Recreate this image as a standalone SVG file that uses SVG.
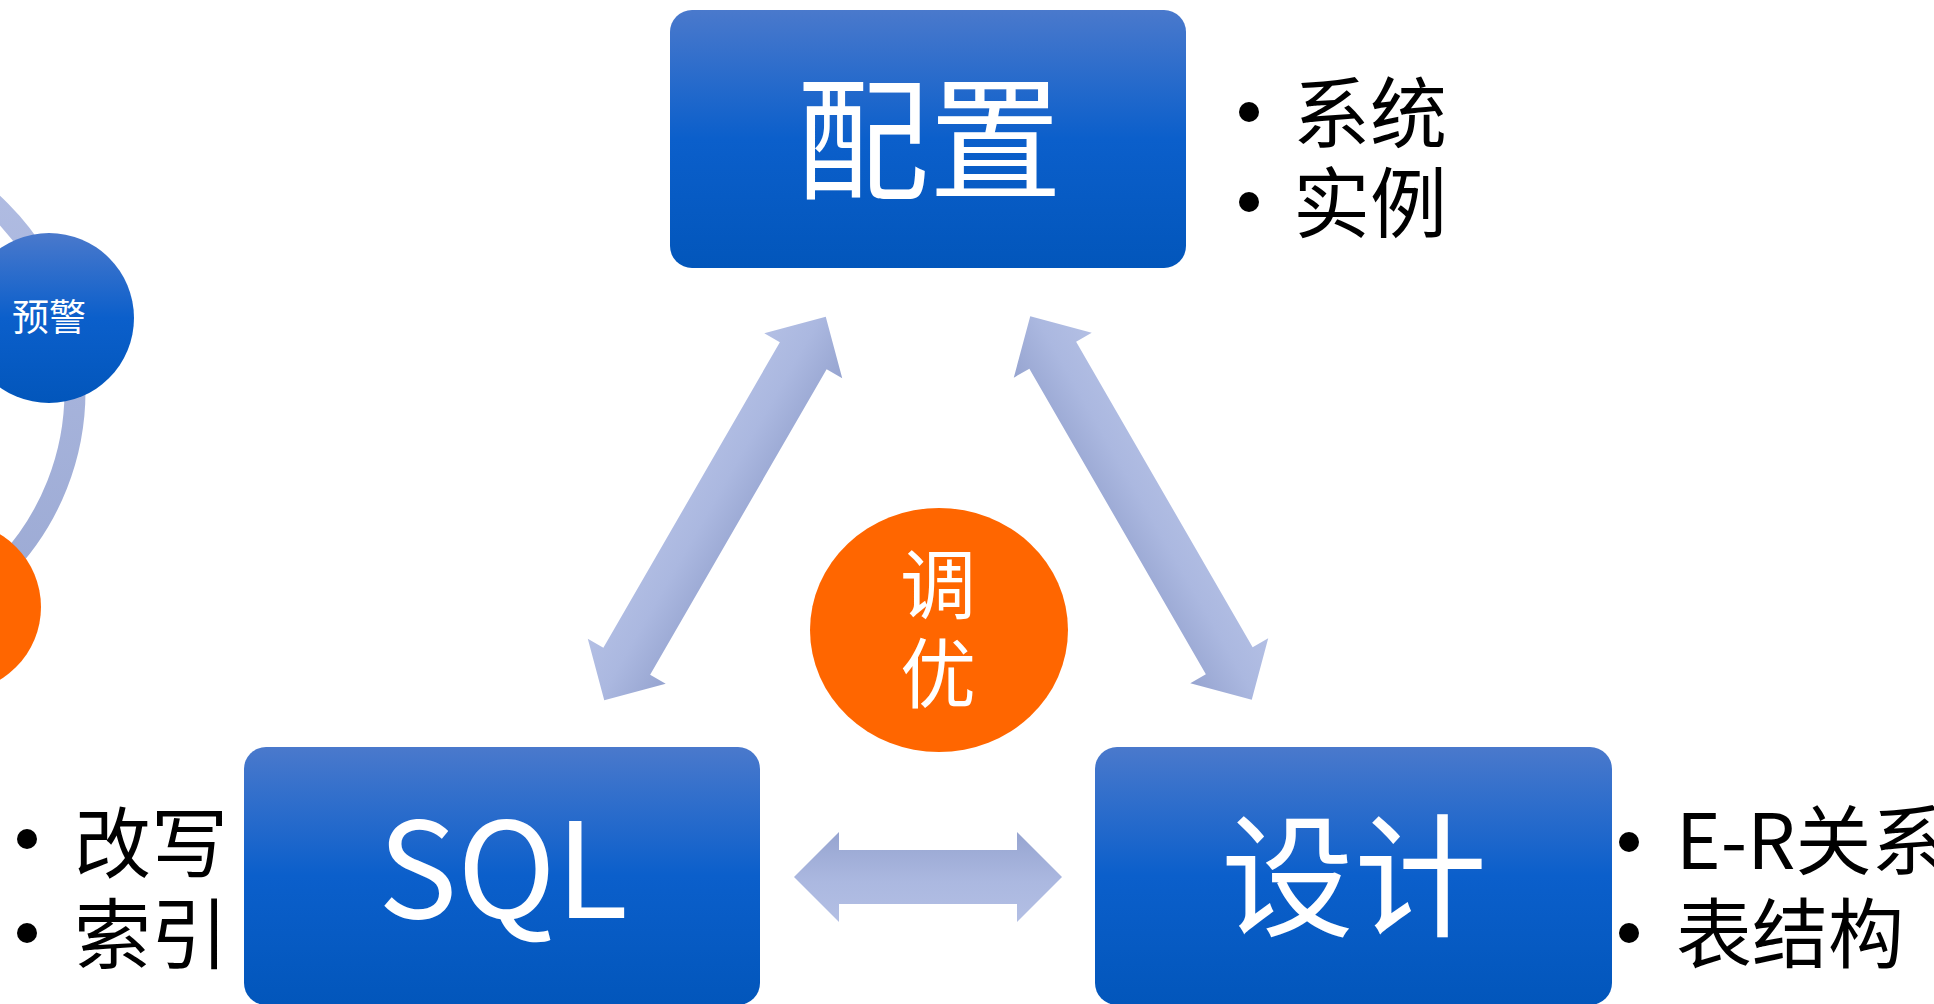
<svg xmlns="http://www.w3.org/2000/svg" width="1934" height="1004" viewBox="0 0 1934 1004">
  <defs>
    <linearGradient id="blueGrad" x1="0" y1="0" x2="0" y2="1">
      <stop offset="0" stop-color="#4a79cc"/>
      <stop offset="0.5" stop-color="#0b5fcb"/>
      <stop offset="1" stop-color="#0256bb"/>
    </linearGradient>
    <linearGradient id="arrowGrad" x1="0" y1="0" x2="0" y2="1">
      <stop offset="0" stop-color="#96a4d0"/>
      <stop offset="0.55" stop-color="#abb8e0"/>
      <stop offset="1" stop-color="#b3bfe4"/>
    </linearGradient>
    <linearGradient id="ringGrad" gradientUnits="userSpaceOnUse" x1="0" y1="180" x2="0" y2="600">
      <stop offset="0" stop-color="#b0bce2"/>
      <stop offset="1" stop-color="#9caad4"/>
    </linearGradient>
  </defs>
  <style>
    .box { fill: url(#blueGrad); }
    .arrow { fill: url(#arrowGrad); }
    .big { font-family: "Noto Sans CJK SC", "Noto Sans", sans-serif; font-size: 133px; fill: #ffffff; text-anchor: middle; }
    .mid { font-family: "Noto Sans CJK SC", "Noto Sans", sans-serif; font-size: 76px; fill: #ffffff; text-anchor: middle; }
    .small { font-family: "Noto Sans CJK SC", "Noto Sans", sans-serif; font-size: 37px; fill: #ffffff; text-anchor: middle; }
    .bul { font-family: "Noto Sans CJK SC", "Noto Sans", sans-serif; font-size: 77px; fill: #000000; }
    .dot { fill: #000000; }
  </style>
  <rect width="1934" height="1004" fill="#ffffff"/>

  <g id="ring">
    <circle cx="-180" cy="391" r="255" fill="none" stroke="url(#ringGrad)" stroke-width="21"/>
  </g>

  <g id="connectors">
    <path class="arrow" transform="translate(715 508.5) rotate(120)" d="M -221.5 0 L -176.5 -45 L -176.5 -27 L 176.5 -27 L 176.5 -45 L 221.5 0 L 176.5 45 L 176.5 27 L -176.5 27 L -176.5 45 Z"/>
    <path class="arrow" transform="translate(1141 508) rotate(-120)" d="M -221.5 0 L -176.5 -45 L -176.5 -27 L 176.5 -27 L 176.5 -45 L 221.5 0 L 176.5 45 L 176.5 27 L -176.5 27 L -176.5 45 Z"/>
    <path class="arrow" transform="translate(928 877)" d="M -134 0 L -89 -45 L -89 -27 L 89 -27 L 89 -45 L 134 0 L 89 45 L 89 27 L -89 27 L -89 45 Z"/>
  </g>

  <g id="node-alert">
    <circle cx="49" cy="318" r="85" fill="url(#blueGrad)"/>
    <text class="small" x="49" y="331">预警</text>
  </g>

  <g id="node-orange-left">
    <circle cx="-44" cy="607" r="85" fill="#ff6600"/>
  </g>

  <g id="node-config">
    <rect class="box" x="670" y="10" width="516" height="258" rx="22" ry="22"/>
    <text class="big" x="929" y="189">配置</text>
  </g>
  <g id="list-config">
    <circle class="dot" cx="1249" cy="112" r="10"/>
    <circle class="dot" cx="1249" cy="202" r="10"/>
    <text class="bul" x="1293" y="142">系统</text>
    <text class="bul" x="1293" y="232">实例</text>
  </g>

  <g id="node-tune">
    <ellipse cx="939" cy="630" rx="129" ry="122" fill="#ff6600"/>
    <text class="mid" x="938" y="613">调</text>
    <text class="mid" x="938" y="702">优</text>
  </g>

  <g id="node-sql">
    <rect class="box" x="244" y="747" width="516" height="258" rx="22" ry="22"/>
    <text class="big" x="503" y="918">SQL</text>
  </g>
  <g id="list-sql">
    <circle class="dot" cx="27" cy="839" r="10"/>
    <circle class="dot" cx="27" cy="933" r="10"/>
    <text class="bul" x="74" y="872">改写</text>
    <text class="bul" x="74" y="963">索引</text>
  </g>

  <g id="node-design">
    <rect class="box" x="1095" y="747" width="517" height="258" rx="22" ry="22"/>
    <text class="big" x="1354" y="926">设计</text>
  </g>
  <g id="list-design">
    <circle class="dot" cx="1629" cy="842" r="10"/>
    <circle class="dot" cx="1629" cy="933" r="10"/>
    <text class="bul" x="1676" y="869" style="font-size:76px">E-R关系</text>
    <text class="bul" x="1676" y="962" style="font-size:76px">表结构</text>
  </g>
</svg>
